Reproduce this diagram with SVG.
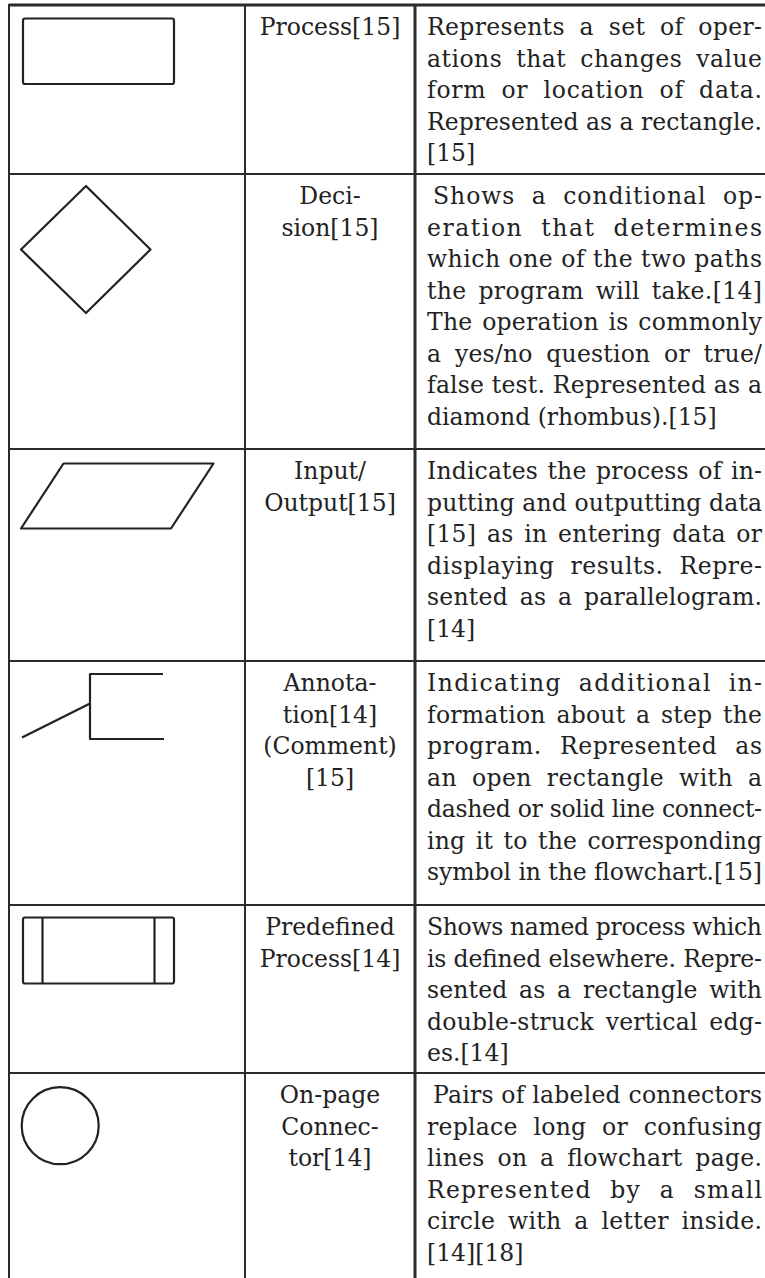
<svg xmlns="http://www.w3.org/2000/svg" width="765" height="1278" viewBox="0 0 765 1278">
  <style>
    .grid { stroke: #2b2b2b; stroke-width: 2; fill: none; }
    .grid-heavy { stroke: #2b2b2b; stroke-width: 3; fill: none; }
    .sym { stroke: #222; stroke-width: 2.2; fill: none; stroke-linejoin: round; }
    text { font-family: "DejaVu Serif", "Liberation Serif", serif; font-size: 23.5px; fill: #222; }
    .name { text-anchor: middle; }
  </style>

  <rect width="765" height="1278" fill="#fff"/>

  <!-- table rules -->
  <g id="table-grid">
    <line class="grid-heavy" x1="9" y1="5" x2="765" y2="5"/>
    <line class="grid" x1="9" y1="4" x2="9" y2="1278"/>
    <line class="grid" x1="245" y1="5" x2="245" y2="1278"/>
    <line class="grid-heavy" x1="415" y1="5" x2="415" y2="1278"/>
    <line class="grid" x1="9" y1="174" x2="765" y2="174"/>
    <line class="grid" x1="9" y1="449" x2="765" y2="449"/>
    <line class="grid" x1="9" y1="661" x2="765" y2="661"/>
    <line class="grid" x1="9" y1="905" x2="765" y2="905"/>
    <line class="grid" x1="9" y1="1073" x2="765" y2="1073"/>
  </g>

  <!-- row 1: process -->
  <g id="row-process">
    <rect class="sym" x="23" y="18.5" width="151" height="65.5" rx="2"/>
    <text class="name" x="330" y="35">Process[15]</text>
    <text x="427" y="35" word-spacing="7" textLength="335" lengthAdjust="spacing">Represents a set of oper-</text>
    <text x="427" y="66.5" word-spacing="6" textLength="335" lengthAdjust="spacing">ations that changes value</text>
    <text x="427" y="98" word-spacing="7" textLength="335" lengthAdjust="spacing">form or location of data.</text>
    <text x="427" y="129.5" textLength="335" lengthAdjust="spacing">Represented as a rectangle.</text>
    <text x="427" y="161">[15]</text>
  </g>

  <!-- row 2: decision -->
  <g id="row-decision">
    <polygon class="sym" points="86,186 150.5,249.5 86,313 21,249.5"/>
    <text class="name" x="330" y="204">Deci-</text>
    <text class="name" x="330" y="235.5">sion[15]</text>
    <text x="433" y="204" word-spacing="8" textLength="329" lengthAdjust="spacing">Shows a conditional op-</text>
    <text x="427" y="235.5" word-spacing="9" textLength="335" lengthAdjust="spacing">eration that determines</text>
    <text x="427" y="267" textLength="335" lengthAdjust="spacing">which one of the two paths</text>
    <text x="427" y="298.5" word-spacing="4" textLength="335" lengthAdjust="spacing">the program will take.[14]</text>
    <text x="427" y="330" word-spacing="2" textLength="335" lengthAdjust="spacing">The operation is commonly</text>
    <text x="427" y="361.5" word-spacing="6" textLength="335" lengthAdjust="spacing">a yes/no question or true/</text>
    <text x="427" y="393" textLength="335" lengthAdjust="spacing">false test. Represented as a</text>
    <text x="427" y="424.5">diamond (rhombus).[15]</text>
  </g>

  <!-- row 3: input / output -->
  <g id="row-io">
    <polygon class="sym" points="63.5,463.5 213.5,463.5 171,528.5 21,528.5"/>
    <text class="name" x="330" y="479">Input/</text>
    <text class="name" x="330" y="510.5">Output[15]</text>
    <text x="427" y="479" word-spacing="2" textLength="335" lengthAdjust="spacing">Indicates the process of in-</text>
    <text x="427" y="510.5" textLength="335" lengthAdjust="spacing">putting and outputting data</text>
    <text x="427" y="542" word-spacing="3" textLength="335" lengthAdjust="spacing">[15] as in entering data or</text>
    <text x="427" y="573.5" word-spacing="8" textLength="335" lengthAdjust="spacing">displaying results. Repre-</text>
    <text x="427" y="605" word-spacing="4" textLength="335" lengthAdjust="spacing">sented as a parallelogram.</text>
    <text x="427" y="636.5">[14]</text>
  </g>

  <!-- row 4: annotation -->
  <g id="row-annotation">
    <path class="sym" d="M163,674 H90 V739 H164" stroke-linejoin="miter"/>
    <line class="sym" x1="22" y1="737.5" x2="90" y2="703.5"/>
    <text class="name" x="330" y="691">Annota-</text>
    <text class="name" x="330" y="722.5">tion[14]</text>
    <text class="name" x="330" y="754">(Comment)</text>
    <text class="name" x="330" y="785.5">[15]</text>
    <text x="427" y="691" word-spacing="8" textLength="335" lengthAdjust="spacing">Indicating additional in-</text>
    <text x="427" y="722.5" word-spacing="3" textLength="335" lengthAdjust="spacing">formation about a step the</text>
    <text x="427" y="754" word-spacing="10" textLength="335" lengthAdjust="spacing">program. Represented as</text>
    <text x="427" y="785.5" word-spacing="7" textLength="335" lengthAdjust="spacing">an open rectangle with a</text>
    <text x="427" y="817" textLength="335" lengthAdjust="spacing">dashed or solid line connect-</text>
    <text x="427" y="848.5" word-spacing="3" textLength="335" lengthAdjust="spacing">ing it to the corresponding</text>
    <text x="427" y="880" textLength="335" lengthAdjust="spacing">symbol in the flowchart.[15]</text>
  </g>

  <!-- row 5: predefined process -->
  <g id="row-predefined">
    <rect class="sym" x="23" y="917.5" width="151" height="66" rx="2"/>
    <line class="sym" x1="42.5" y1="917.5" x2="42.5" y2="983.5"/>
    <line class="sym" x1="154.5" y1="917.5" x2="154.5" y2="983.5"/>
    <text class="name" x="330" y="935">Predefined</text>
    <text class="name" x="330" y="966.5">Process[14]</text>
    <text x="427" y="935" textLength="335" lengthAdjust="spacing">Shows named process which</text>
    <text x="427" y="966.5" textLength="335" lengthAdjust="spacing">is defined elsewhere. Repre-</text>
    <text x="427" y="998" word-spacing="4" textLength="335" lengthAdjust="spacing">sented as a rectangle with</text>
    <text x="427" y="1029.5" word-spacing="4" textLength="335" lengthAdjust="spacing">double-struck vertical edg-</text>
    <text x="427" y="1061">es.[14]</text>
  </g>

  <!-- row 6: on-page connector -->
  <g id="row-connector">
    <circle class="sym" cx="60.2" cy="1125.7" r="38.5"/>
    <text class="name" x="330" y="1103">On-page</text>
    <text class="name" x="330" y="1134.5">Connec-</text>
    <text class="name" x="330" y="1166">tor[14]</text>
    <text x="433" y="1103" textLength="329" lengthAdjust="spacing">Pairs of labeled connectors</text>
    <text x="427" y="1134.5" word-spacing="8" textLength="335" lengthAdjust="spacing">replace long or confusing</text>
    <text x="427" y="1166" word-spacing="5" textLength="335" lengthAdjust="spacing">lines on a flowchart page.</text>
    <text x="427" y="1197.5" word-spacing="10" textLength="335" lengthAdjust="spacing">Represented by a small</text>
    <text x="427" y="1229" word-spacing="5" textLength="335" lengthAdjust="spacing">circle with a letter inside.</text>
    <text x="427" y="1260.5">[14][18]</text>
  </g>
</svg>
